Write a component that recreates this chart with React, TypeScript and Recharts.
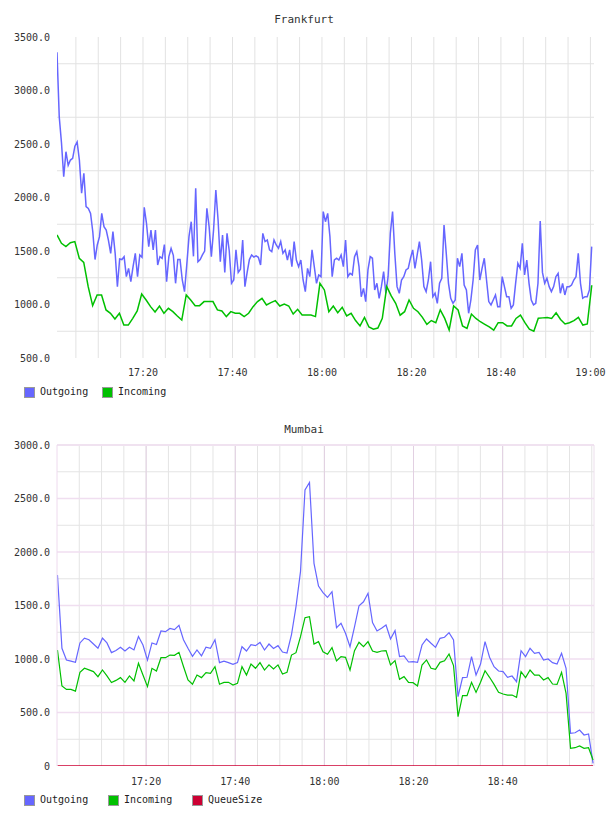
import { LineChart, Line, XAxis, YAxis, CartesianGrid, ReferenceLine } from "recharts";

const FONT = "'DejaVu Sans Mono', monospace";
const BLUE = "#6666ff";
const GREEN = "#00c000";
const RED = "#cc0033";

// minutes after 17:00
const timeTicks = [20, 40, 60, 80, 100, 120];
const mumbaiTimeTicks = [20, 40, 60, 80, 100];
const gridMinutes = [5, 10, 15, 20, 25, 30, 35, 40, 45, 50, 55, 60, 65, 70, 75, 80, 85, 90, 95, 100, 105, 110, 115, 120];

const frankfurtYTicks = [500, 1000, 1500, 2000, 2500, 3000, 3500];
const frankfurtGridY = [750, 1250, 1750, 2250, 2750, 3250];

const mumbaiYTicks = [0, 500, 1000, 1500, 2000, 2500, 3000];
const mumbaiMinorY = [250, 750, 1250, 1750, 2250, 2750];
const mumbaiMajorY = [500, 1000, 1500, 2000, 2500];

// Frankfurt outgoing: sampled every 30 s from 17:00:47
const frankfurtOutgoing = [
  3357, 2755, 2512, 2194, 2428, 2300, 2350, 2366, 2480, 2519, 2350, 2040, 2226, 1914, 1898, 1852, 1680, 1420, 1556, 1634,
  1852, 1727, 1696, 1600, 1478, 1681, 1478, 1166, 1425, 1420, 1447, 1260, 1338, 1213, 1353, 1478, 1260, 1463, 1441, 1908,
  1758, 1540, 1696, 1510, 1696, 1369, 1447, 1431, 1560, 1213, 1447, 1525, 1460, 1198, 1420, 1420, 1229, 1120, 1369, 1634,
  1774, 1450, 2086, 1400, 1420, 1463, 1500, 1899, 1727, 1447, 1700, 2070, 1790, 1400, 1650, 1300, 1665, 1500, 1198, 1230,
  1510, 1300, 1330, 1603, 1166, 1300, 1420, 1463, 1444, 1454, 1441, 1369, 1665, 1588, 1603, 1510, 1494, 1603, 1556, 1525,
  1588, 1478, 1510, 1416, 1510, 1354, 1588, 1416, 1354, 1416, 1229, 1120, 1338, 1260, 1510, 1354, 1198, 1276, 1260, 1868,
  1774, 1852, 1634, 1260, 1416, 1432, 1416, 1463, 1354, 1603, 1260, 1291, 1276, 1447, 1494, 1354, 1073, 1151, 1027, 1323,
  1447, 1432, 1136, 1198, 1058, 1167, 1307, 1105, 1260, 1665, 1868, 1478, 1167, 1105, 1229, 1260, 1323, 1338, 1432, 1510,
  1338, 1463, 1588, 1416, 1167, 1120, 1229, 1400, 1073, 1105, 1011, 1198, 1245, 1743, 1478, 1198, 1058, 1011, 1042, 1432,
  1354, 1478, 1182, 1136, 918, 1042, 1229, 1510, 1556, 1229, 1338, 1432, 1229, 1027, 996, 1042, 1089, 980, 980, 1260,
  1167, 1073, 1073, 964, 996, 1198, 1385, 1338, 1572, 1276, 1416, 1198, 1042, 996, 1011, 1198, 1781, 1300, 1198, 1245,
  1167, 1120, 1167, 1260, 1291, 1105, 1198, 1089, 1167, 1167, 1182, 1229, 1260, 1478, 1198, 1058, 1073, 1073, 1136, 1541,
];

// Frankfurt incoming: sampled about once a minute
const frankfurtIncoming = [
  1650, 1572, 1541, 1578, 1588, 1432, 1394, 1167, 990, 1089, 1089, 949, 918, 865, 918, 808, 808, 871, 940, 1098,
  1042, 980, 930, 986, 918, 964, 933, 893, 855, 1089, 1042, 989, 989, 1027, 1027, 1027, 949, 940, 887, 933,
  918, 918, 887, 918, 980, 1027, 1058, 996, 1017, 1036, 986, 1005, 986, 911, 955, 902, 902, 902, 887, 1198,
  1136, 933, 986, 924, 974, 893, 918, 850, 800, 880, 790, 770, 780, 870, 1167, 1080, 1011, 900, 933, 1042,
  964, 933, 880, 815, 850, 830, 950, 870, 762, 986, 949, 800, 777, 911, 870, 839, 815, 790, 760, 830,
  830, 800, 800, 870, 900, 830, 770, 750, 871, 875, 878, 870, 923, 860, 818, 830, 849, 880, 808, 818,
  1180,
];

// Mumbai: sampled about once a minute from 17:00
const mumbaiOutgoing = [
  1785, 1100, 990, 980, 970, 1150, 1195, 1180, 1140, 1100, 1195, 1150, 1060, 1080, 1110, 1075, 1110, 1085, 1210, 1130,
  990, 1150, 1135, 1262, 1255, 1285, 1275, 1315, 1180, 1100, 1025, 1085, 1030, 1110, 1100, 1180, 966, 980, 966, 950,
  966, 1115, 1075, 1135, 1125, 1155, 1084, 1140, 1098, 1125, 1065, 1056, 1228, 1490, 1816, 2580, 2650, 1894, 1682, 1620,
  1576, 1629, 1293, 1334, 1240, 1115, 1300, 1498, 1535, 1614, 1340, 1262, 1287, 1318, 1187, 1265, 1022, 1028, 972, 975,
  969, 1131, 1187, 1147, 1109, 1193, 1203, 1246, 1178, 648, 826, 829, 1022, 850, 953, 1162, 1016, 928, 888, 882,
  829, 841, 788, 1078, 1022, 1100, 1053, 1062, 991, 1000, 966, 953, 1053, 913, 305, 311, 336, 290, 299, 25,
];

const mumbaiIncoming = [
  1084, 748, 716, 716, 700, 875, 913, 898, 882, 835, 898, 842, 780, 800, 826, 782, 842, 795, 960, 850,
  742, 913, 888, 1012, 1012, 1037, 1034, 1062, 930, 804, 764, 850, 826, 873, 866, 929, 764, 782, 782, 757,
  773, 929, 850, 953, 913, 966, 897, 945, 907, 945, 860, 875, 1037, 1059, 1209, 1386, 1396, 1140, 1162, 1068,
  1044, 1106, 982, 1022, 1015, 897, 1078, 1156, 1115, 1162, 1075, 1062, 1075, 1078, 945, 985, 810, 835, 782, 779,
  748, 944, 991, 913, 903, 969, 984, 1047, 938, 461, 657, 657, 782, 688, 782, 891, 829, 763, 688, 673,
  663, 663, 642, 882, 826, 897, 850, 850, 804, 826, 766, 763, 875, 679, 165, 171, 187, 165, 171, 56,
];

const mumbaiQueueSize = [
  0, 0, 0, 0, 0, 0, 0, 0, 0, 0, 0, 0, 0, 0, 0, 0, 0, 0, 0, 0,
  0, 0, 0, 0, 0, 0, 0, 0, 0, 0, 0, 0, 0, 0, 0, 0, 0, 0, 0, 0,
  0, 0, 0, 0, 0, 0, 0, 0, 0, 0, 0, 0, 0, 0, 0, 0, 0, 0, 0, 0,
  0, 0, 0, 0, 0, 0, 0, 0, 0, 0, 0, 0, 0, 0, 0, 0, 0, 0, 0, 0,
  0, 0, 0, 0, 0, 0, 0, 0, 0, 0, 0, 0, 0, 0, 0, 0, 0, 0, 0, 0,
  0, 0, 0, 0, 0, 0, 0, 0, 0, 0, 0, 0, 0, 0, 0, 0, 0, 0, 0, 0,
];

const toSeries = (values: number[], start: number, step: number) =>
  values.map((v, i) => ({ t: start + i * step, v }));

const fraOut = toSeries(frankfurtOutgoing, 0.78, 0.5);
const fraIn = toSeries(frankfurtIncoming, 0.78, 0.996);
const mumOut = toSeries(mumbaiOutgoing, 0.1, 1.01);
const mumIn = toSeries(mumbaiIncoming, 0.1, 1.01);
const mumQueue = toSeries(mumbaiQueueSize, 0.1, 1.01);

const fmtTime = (m: number) => {
  const h = 17 + Math.floor(m / 60);
  const mm = Math.round(m % 60);
  return `${h}:${mm < 10 ? "0" + mm : mm}`;
};
const fmtVal = (v: number) => (v === 0 ? "0" : v.toFixed(1));

const tickStyle = { fontSize: 10, fontFamily: FONT, fill: "#333" };

function Title({ text, top }: { text: string; top: number }) {
  return (
    <div
      style={{
        position: "absolute",
        left: 0,
        top,
        width: 608,
        textAlign: "center",
        fontSize: 11,
        lineHeight: "12px",
        color: "#333",
        fontFamily: FONT,
      }}
    >
      {text}
    </div>
  );
}

function LegendRow({ top, items }: { top: number; items: { label: string; color: string; x: number }[] }) {
  return (
    <>
      {items.map((it) => (
        <div key={it.label} style={{ position: "absolute", left: it.x, top, height: 12, display: "flex", alignItems: "center" }}>
          <div style={{ width: 9, height: 9, background: it.color, border: "1px solid #999" }} />
          <span style={{ marginLeft: 5, fontSize: 10, fontFamily: FONT, color: "#222", lineHeight: "12px" }}>{it.label}</span>
        </div>
      ))}
    </>
  );
}

export default function App() {
  return (
    <div style={{ position: "absolute", left: 0, top: 0, width: 608, height: 816, background: "#fff" }}>
      <Title text="Frankfurt" top={14} />
      <div style={{ position: "absolute", left: 0, top: 0 }}>
        <LineChart width={608} height={390} margin={{ top: 37, right: 14, bottom: 2, left: 7 }}>
          <CartesianGrid
            stroke="#e2e2e2"
            horizontalValues={frankfurtGridY}
            verticalValues={gridMinutes}
          />
          <XAxis
            type="number"
            dataKey="t"
            domain={[0.78, 120.8]}
            ticks={timeTicks}
            tickFormatter={fmtTime}
            allowDataOverflow
            axisLine={false}
            tickLine={false}
            tickSize={0}
            tickMargin={11}
            height={30}
            tick={tickStyle}
            interval={0}
          />
          <YAxis
            type="number"
            domain={[500, 3500]}
            ticks={frankfurtYTicks}
            tickFormatter={fmtVal}
            allowDataOverflow
            axisLine={false}
            tickLine={false}
            tickSize={0}
            tickMargin={7}
            width={50}
            tick={tickStyle}
            interval={0}
          />
          <Line data={fraOut} dataKey="v" stroke={BLUE} strokeWidth={1.5} dot={false} isAnimationActive={false} type="linear" />
          <Line data={fraIn} dataKey="v" stroke={GREEN} strokeWidth={1.5} dot={false} isAnimationActive={false} type="linear" />
        </LineChart>
      </div>
      <LegendRow
        top={386}
        items={[
          { label: "Outgoing", color: BLUE, x: 24 },
          { label: "Incoming", color: GREEN, x: 102 },
        ]}
      />

      <Title text="Mumbai" top={424} />
      <div style={{ position: "absolute", left: 0, top: 408 }}>
        <LineChart width={608} height={390} margin={{ top: 37, right: 14, bottom: 2, left: 7 }}>
          <CartesianGrid stroke="#e4e4e4" horizontalValues={mumbaiMinorY} verticalValues={gridMinutes} />
          {mumbaiMajorY.map((v) => (
            <ReferenceLine key={"y" + v} y={v} stroke="#f0def0" strokeWidth={1.5} />
          ))}
          {mumbaiTimeTicks.map((m) => (
            <ReferenceLine key={"x" + m} x={m} stroke="#e2d0e2" />
          ))}
          <ReferenceLine y={3000} stroke="#f0e2f0" strokeWidth={2} />
          <ReferenceLine x={120.5} stroke="#ecdfec" />
          <XAxis
            type="number"
            dataKey="t"
            domain={[0, 120.5]}
            ticks={mumbaiTimeTicks}
            tickFormatter={fmtTime}
            allowDataOverflow
            axisLine={false}
            tickLine={false}
            tickSize={0}
            tickMargin={12}
            height={30}
            tick={tickStyle}
            interval={0}
          />
          <YAxis
            type="number"
            domain={[0, 3000]}
            ticks={mumbaiYTicks}
            tickFormatter={fmtVal}
            allowDataOverflow
            axisLine={{ stroke: "#eedaee" }}
            tickLine={false}
            tickSize={0}
            tickMargin={7}
            width={50}
            tick={tickStyle}
            interval={0}
          />
          <Line data={mumOut} dataKey="v" stroke={BLUE} strokeWidth={1.2} dot={false} isAnimationActive={false} type="linear" />
          <Line data={mumIn} dataKey="v" stroke={GREEN} strokeWidth={1.2} dot={false} isAnimationActive={false} type="linear" />
          <Line data={mumQueue} dataKey="v" stroke={RED} strokeWidth={1.5} dot={false} isAnimationActive={false} type="linear" />
        </LineChart>
      </div>
      <LegendRow
        top={794}
        items={[
          { label: "Outgoing", color: BLUE, x: 24 },
          { label: "Incoming", color: GREEN, x: 108 },
          { label: "QueueSize", color: RED, x: 192 },
        ]}
      />
    </div>
  );
}
